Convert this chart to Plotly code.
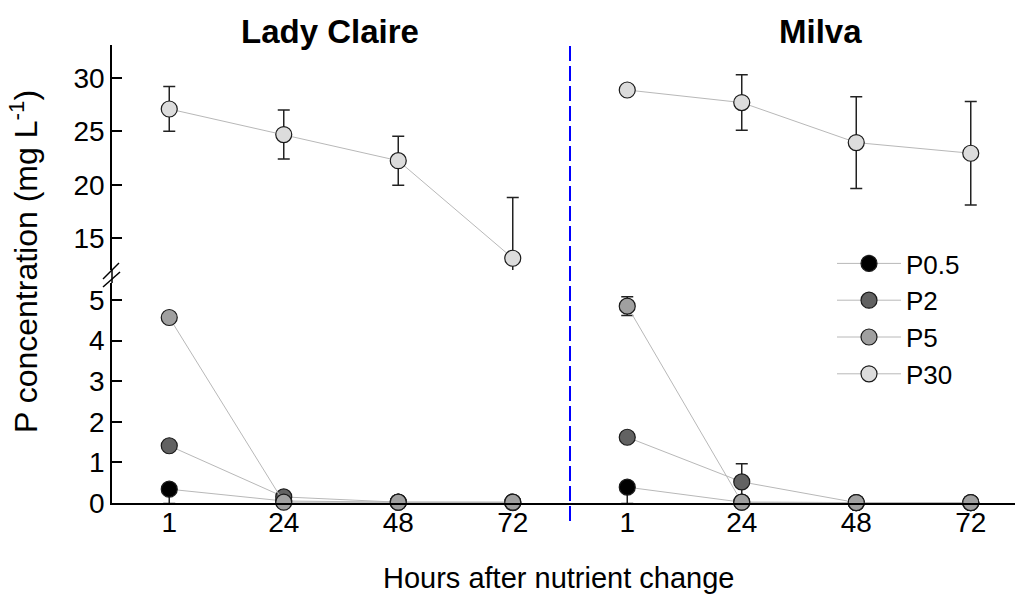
import plotly.graph_objects as go

hours = ["1", "24", "48", "72"]
series = ["P0.5", "P2", "P5", "P30"]
colors = {"P0.5": "#000000", "P2": "#626262", "P5": "#a0a0a0", "P30": "#dcdcdc"}

# Lady Claire: values, error above, error below
lc_p05 = [0.34, 0.05, 0.02, 0.01]
lc_p05_up = [0.0, 0.0, 0.0, 0.0]
lc_p05_dn = [0.35, 0.0, 0.0, 0.0]
lc_p2 = [1.41, 0.15, 0.02, 0.02]
lc_p2_up = [0.0, 0.0, 0.0, 0.0]
lc_p2_dn = [0.0, 0.0, 0.0, 0.0]
lc_p5 = [4.57, 0.02, 0.02, 0.02]
lc_p5_up = [0.0, 0.0, 0.0, 0.0]
lc_p5_dn = [0.0, 0.0, 0.0, 0.0]
lc_p30 = [27.1, 24.7, 22.25, 13.1]
lc_p30_up = [2.1, 2.3, 2.3, 5.7]
lc_p30_dn = [2.1, 2.3, 2.3, 5.7]

# Milva
mv_p05 = [0.39, 0.02, 0.01, 0.01]
mv_p05_up = [0.0, 0.0, 0.0, 0.0]
mv_p05_dn = [0.4, 0.0, 0.0, 0.0]
mv_p2 = [1.62, 0.52, 0.01, 0.01]
mv_p2_up = [0.0, 0.45, 0.0, 0.0]
mv_p2_dn = [0.0, 0.45, 0.0, 0.0]
mv_p5 = [4.85, 0.02, 0.01, 0.01]
mv_p5_up = [0.23, 0.0, 0.0, 0.0]
mv_p5_dn = [0.23, 0.0, 0.0, 0.0]
mv_p30 = [28.88, 27.7, 23.95, 22.95]
mv_p30_up = [0.3, 2.6, 4.3, 4.85]
mv_p30_dn = [0.3, 2.6, 4.3, 4.85]

FONT = "Liberation Sans, Arial, sans-serif"

data = {
    "x": {"P0.5": (lc_p05, lc_p05_up, lc_p05_dn), "P2": (lc_p2, lc_p2_up, lc_p2_dn),
          "P5": (lc_p5, lc_p5_up, lc_p5_dn), "P30": (lc_p30, lc_p30_up, lc_p30_dn)},
    "x2": {"P0.5": (mv_p05, mv_p05_up, mv_p05_dn), "P2": (mv_p2, mv_p2_up, mv_p2_dn),
           "P5": (mv_p5, mv_p5_up, mv_p5_dn), "P30": (mv_p30, mv_p30_up, mv_p30_dn)},
}

fig = go.Figure()
for s in series:
    for xa in ["x", "x2"]:
        vals, up, dn = data[xa][s]
        ya = "y2" if s == "P30" else "y"
        fig.add_trace(go.Scatter(
            x=hours, y=vals, xaxis=xa, yaxis=ya, name=s,
            legendgroup=s, showlegend=(xa == "x"),
            mode="lines+markers",
            line=dict(color="#b8b8b8", width=1),
            marker=dict(size=16, color=colors[s], line=dict(color="#1a1a1a", width=1.2)),
            error_y=dict(type="data", symmetric=False, array=up, arrayminus=dn, visible=True,
                         color="#222222", thickness=1.5, width=6),
            cliponaxis=False,
        ))

L, R, T, B = 112, 4, 45, 94
W, H = 1019, 597
pw, ph = W - L - R, H - T - B
sep = (570 - L) / pw
low_top = (503 - 283) / ph
up_bot = (503 - 270) / ph

tickfont = dict(family=FONT, size=28, color="#000000")
xcommon = dict(type="category", categoryorder="array", categoryarray=hours,
               tickvals=hours, ticktext=hours, showgrid=False, zeroline=False,
               showline=True, linecolor="#000000", linewidth=1.5, ticks="",
               ticklabelstandoff=-6, tickfont=tickfont)
ycommon = dict(showgrid=False, zeroline=False, showline=True, linecolor="#000000",
               linewidth=1.5, ticks="inside", ticklen=10, tickwidth=1.5,
               tickcolor="#000000", tickfont=tickfont, anchor="x")

fig.update_layout(
    width=W, height=H, margin=dict(l=L, r=R, t=T, b=B),
    plot_bgcolor="white", paper_bgcolor="white",
    font=dict(family=FONT, color="#000000"),
    xaxis=dict(domain=[0, sep], range=[-0.5, 3.5], anchor="y", **xcommon),
    xaxis2=dict(domain=[sep, 1], range=[-0.5, (1015 - 570) / 114.5 - 0.5], anchor="y", **xcommon),
    yaxis=dict(domain=[0, low_top], range=[0, 5.42], tickvals=[0, 1, 2, 3, 4, 5], **ycommon),
    yaxis2=dict(domain=[up_bot, 1], range=[12, 33.1], tickvals=[15, 20, 25, 30], **ycommon),
    legend=dict(x=(832 - L) / pw, y=(503 - 240) / ph, xanchor="left", yanchor="top",
                font=dict(family=FONT, size=26), bgcolor="rgba(0,0,0,0)",
                itemwidth=64, tracegroupgap=0),
    showlegend=True,
)

# axis gap line and break marks
fig.add_shape(type="line", xref="paper", yref="paper", x0=0, x1=0, y0=low_top, y1=up_bot,
              line=dict(color="#000000", width=1.5))
ya = (503 - 275) / ph
for (x0, y0, x1, y1) in [(-9, -4, 7, 12), (-9, -12, 8, 3)]:
    fig.add_shape(type="line", xref="paper", yref="paper", xsizemode="pixel", ysizemode="pixel",
                  xanchor=0, yanchor=ya, x0=x0, y0=y0, x1=x1, y1=y1,
                  line=dict(color="#000000", width=1.5))

# separator
fig.add_shape(type="line", xref="paper", yref="paper", x0=sep, x1=sep,
              y0=(503 - 521) / ph, y1=1, line=dict(color="#0000ff", width=2, dash="15px,5px"))

# titles
fig.add_annotation(text="<b>Lady Claire</b>", xref="paper", yref="paper",
                   x=(330 - L) / pw, y=1, yshift=14, xanchor="center", yanchor="middle",
                   showarrow=False, font=dict(family=FONT, size=33, color="#000000"))
fig.add_annotation(text="<b>Milva</b>", xref="paper", yref="paper",
                   x=(820 - L) / pw, y=1, yshift=14, xanchor="center", yanchor="middle",
                   showarrow=False, font=dict(family=FONT, size=33, color="#000000"))
fig.add_annotation(text="Hours after nutrient change", xref="paper", yref="paper",
                   x=(558 - L) / pw, y=(503 - 578) / ph, xanchor="center", yanchor="middle",
                   showarrow=False, font=dict(family=FONT, size=29, color="#000000"))
fig.add_annotation(text="P concentration (mg L<sup>-1</sup>)", xref="paper", yref="paper",
                   x=0, xshift=-(L - 24), y=(503 - 262) / ph, xanchor="center", yanchor="middle",
                   textangle=-90, showarrow=False,
                   font=dict(family=FONT, size=32, color="#000000"))

fig.write_html("out.html")
